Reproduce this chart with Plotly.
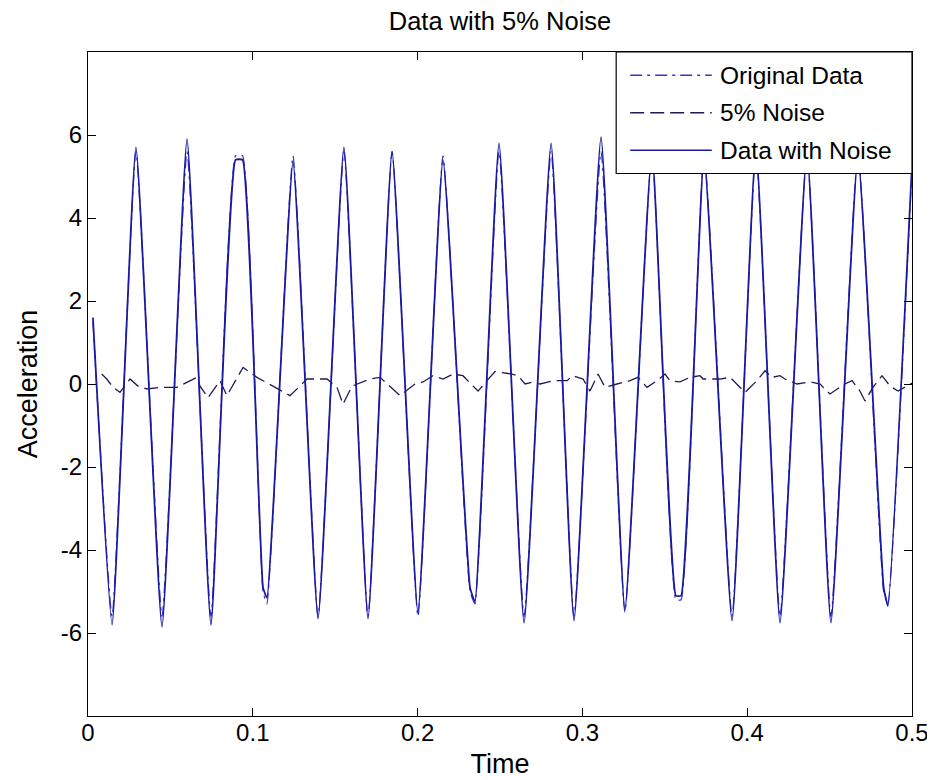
import plotly.graph_objects as go

# ---- Data ----
# Data with noise: turning points (time in s, acceleration)
noisy_t = [0.003, 0.0146, 0.0291, 0.0449, 0.0601, 0.0746, 0.0895, 0.0938,
           0.1062, 0.1086, 0.1244, 0.1396, 0.1553, 0.1699, 0.1845, 0.2002,
           0.2154, 0.2318, 0.2348, 0.2494, 0.2646, 0.2810, 0.2949, 0.3113,
           0.3258, 0.3422, 0.3567, 0.3599, 0.3738, 0.3908, 0.4053, 0.4199,
           0.4363, 0.4508, 0.4672, 0.4828, 0.4854, 0.5000]
noisy_y = [1.6, -5.8, 5.7, -5.85, 5.9, -5.8, 5.4, 5.4,
           -4.9, -5.15, 5.35, -5.65, 5.7, -5.65, 5.6, -5.5,
           5.4, -4.9, -5.25, 5.8, -5.75, 5.8, -5.7, 5.95,
           -5.45, 5.6, -5.1, -5.1, 5.5, -5.7, 5.7, -5.75,
           5.6, -5.75, 5.5, -4.9, -5.35, 5.3]

# Original (noise-free) data: turning points
orig_t = [0.003, 0.0146, 0.0291, 0.0449, 0.0601, 0.0746, 0.0895, 0.0938,
          0.1062, 0.1086, 0.1244, 0.1396, 0.1553, 0.1699, 0.1845, 0.2002,
          0.2154, 0.2318, 0.2348, 0.2494, 0.2646, 0.2810, 0.2949, 0.3113,
          0.3258, 0.3422, 0.3567, 0.3599, 0.3738, 0.3908, 0.4053, 0.4199,
          0.4363, 0.4508, 0.4672, 0.4828, 0.4854, 0.5000]
orig_y = [1.5, -5.6, 5.6, -5.6, 5.6, -5.6, 5.5, 5.5,
          -5.0, -5.3, 5.5, -5.6, 5.6, -5.6, 5.6, -5.6,
          5.5, -5.0, -5.3, 5.6, -5.6, 5.6, -5.6, 5.6,
          -5.5, 5.6, -5.2, -5.2, 5.6, -5.6, 5.6, -5.6,
          5.6, -5.6, 5.6, -5.0, -5.3, 5.2]

# 5% noise series
noise_t = [0.0083, 0.0114, 0.0152, 0.0194, 0.0255, 0.0303, 0.0358, 0.0437,
           0.0540, 0.0661, 0.0680, 0.0728, 0.0801, 0.0843, 0.0941, 0.1025,
           0.1226, 0.1329, 0.1450, 0.1511, 0.1547, 0.1602, 0.1711, 0.1772,
           0.1893, 0.1984, 0.2033, 0.2093, 0.2154, 0.2215, 0.2275, 0.2367,
           0.2421, 0.2470, 0.2573, 0.2609, 0.2652, 0.2700, 0.2743, 0.2822,
           0.2907, 0.2943, 0.3004, 0.3046, 0.3095, 0.3137, 0.3210, 0.3289,
           0.3337, 0.3392, 0.3453, 0.3501, 0.3532, 0.3592, 0.3653, 0.3714,
           0.3732, 0.3835, 0.3896, 0.3987, 0.4059, 0.4108, 0.4150, 0.4199,
           0.4229, 0.4302, 0.4381, 0.4442, 0.4502, 0.4593, 0.4636, 0.4684,
           0.4715, 0.4763, 0.4818, 0.4867, 0.4915, 0.5000]
noise_y = [0.24, 0.12, -0.08, -0.2, 0.12, -0.05, -0.12, -0.08,
           -0.08, 0.16, -0.05, -0.33, 0.08, -0.28, 0.4, 0.16,
           -0.28, 0.12, 0.12, -0.08, -0.49, -0.05, 0.12, 0.16,
           -0.28, 0.0, 0.05, 0.2, 0.12, 0.24, 0.2, -0.17,
           0.08, 0.3, 0.24, 0.2, 0.0, 0.05, 0.0, 0.08,
           0.08, 0.2, 0.12, -0.17, 0.24, -0.08, 0.0, 0.08,
           0.16, -0.08, 0.08, 0.24, 0.08, 0.05, 0.16, 0.2,
           0.12, 0.12, 0.16, -0.2, 0.08, 0.32, 0.16, 0.2,
           0.12, 0.0, 0.05, 0.0, -0.24, 0.0, 0.08, -0.17,
           -0.41, -0.08, 0.2, -0.05, -0.17, 0.02]

x_ticks = [0, 0.1, 0.2, 0.3, 0.4, 0.5]
x_ticklabels = ["0", "0.1", "0.2", "0.3", "0.4", "0.5"]
y_ticks = [-6, -4, -2, 0, 2, 4, 6]
y_ticklabels = ["-6", "-4", "-2", "0", "2", "4", "6"]
series_names = ["Original Data", "5% Noise", "Data with Noise"]

# ---- styles ----
C_ORIG = "#3535d0"
C_NOISE = "#1c1c55"
C_DATA = "#1a1aa0"
DASH_ORIG = "12px,5px,3px,5px"
DASH_NOISE = "14px,6px"
FONT = "Liberation Sans, Arial, sans-serif"

fig = go.Figure()
fig.add_trace(go.Scatter(x=orig_t, y=orig_y, mode="lines", name=series_names[0],
                         line=dict(color=C_ORIG, width=1.2, dash=DASH_ORIG,
                                   shape="spline", smoothing=0.4),
                         showlegend=False))
fig.add_trace(go.Scatter(x=noise_t, y=noise_y, mode="lines", name=series_names[1],
                         line=dict(color=C_NOISE, width=1.3, dash=DASH_NOISE),
                         showlegend=False))
fig.add_trace(go.Scatter(x=noisy_t, y=noisy_y, mode="lines", name=series_names[2],
                         line=dict(color=C_DATA, width=1.8,
                                   shape="spline", smoothing=0.4),
                         showlegend=False))

# ---- custom legend box (MATLAB style) ----
lx0, lx1, ly0, ly1 = 0.641, 1.0, 0.817, 1.0
rows = [0.965, 0.9085, 0.852]
styles = [(C_ORIG, DASH_ORIG), (C_NOISE, DASH_NOISE), (C_DATA, "solid")]
shapes = [dict(type="rect", xref="paper", yref="paper", x0=lx0, x1=lx1, y0=ly0, y1=ly1,
               fillcolor="white", line=dict(color="black", width=1.2), layer="above")]
annotations = []
for name, ry, (col, dsh) in zip(series_names, rows, styles):
    shapes.append(dict(type="line", xref="paper", yref="paper", x0=0.658, x1=0.757,
                       y0=ry, y1=ry, line=dict(color=col, width=1.5, dash=dsh),
                       layer="above"))
    annotations.append(dict(xref="paper", yref="paper", x=0.764, y=ry, text=name,
                            showarrow=False, xanchor="left", yanchor="middle",
                            font=dict(family=FONT, size=24.5, color="black")))

# page body has an 8px margin, so the figure is 8px smaller than the window
fig.update_layout(
    width=927, height=772,
    margin=dict(l=80, r=23, t=44, b=64, autoexpand=False),
    paper_bgcolor="white", plot_bgcolor="white",
    showlegend=False,
    title=dict(text="Data with 5% Noise", x=0.5, xref="paper", xanchor="center",
               yref="container", y=1.0, yanchor="top", pad=dict(t=4),
               font=dict(family=FONT, size=25.5, color="black")),
    font=dict(family=FONT, size=24, color="black"),
    shapes=shapes,
    annotations=annotations,
)
fig.update_xaxes(range=[0, 0.5], tickvals=x_ticks, ticktext=x_ticklabels,
                 ticks="inside", ticklen=8, tickcolor="black", tickwidth=1,
                 showline=True, linecolor="black", linewidth=1.2, mirror="ticks",
                 showgrid=False, zeroline=False, automargin=False,
                 ticklabelstandoff=-5,
                 title=dict(text="Time", font=dict(family=FONT, size=27), standoff=9),
                 tickfont=dict(family=FONT, size=24))
fig.update_yaxes(range=[-8, 8], tickvals=y_ticks, ticktext=y_ticklabels,
                 ticks="inside", ticklen=8, tickcolor="black", tickwidth=1,
                 showline=True, linecolor="black", linewidth=1.2, mirror="ticks",
                 showgrid=False, zeroline=False, automargin=False,
                 title=dict(text="Acceleration", font=dict(family=FONT, size=27), standoff=15),
                 tickfont=dict(family=FONT, size=24))

fig.write_html("out.html")
